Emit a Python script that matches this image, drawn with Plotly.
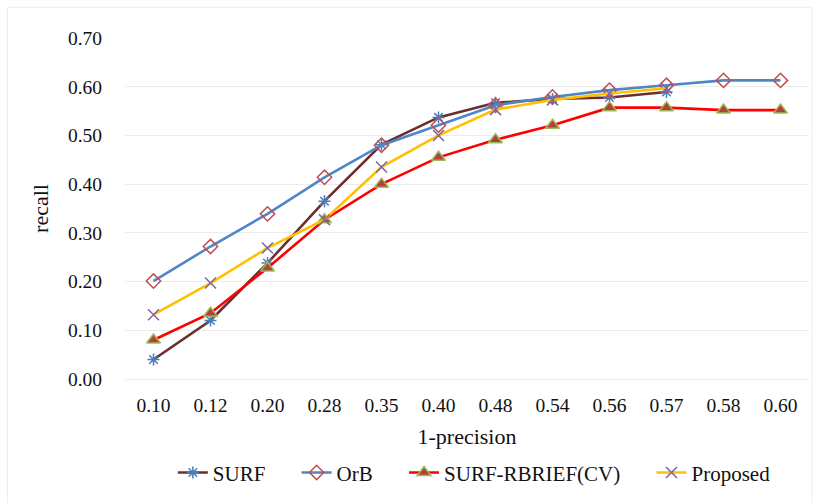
import plotly.graph_objects as go

categories = ["0.10", "0.12", "0.20", "0.28", "0.35", "0.40", "0.48", "0.54", "0.56", "0.57", "0.58", "0.60"]
surf = [0.04, 0.12, 0.238, 0.365, 0.481, 0.537, 0.567, 0.575, 0.578, 0.589]
orb = [0.201, 0.272, 0.339, 0.414, 0.480, 0.521, 0.562, 0.579, 0.593, 0.603, 0.613, 0.613]
rbrief = [0.080, 0.135, 0.228, 0.327, 0.400, 0.455, 0.491, 0.521, 0.557, 0.557, 0.552, 0.552]
proposed = [0.132, 0.197, 0.269, 0.327, 0.435, 0.500, 0.553, 0.573, 0.586, 0.597]
series_names = ["SURF", "OrB", "SURF-RBRIEF(CV)", "Proposed"]

FONT = "Liberation Serif, Times New Roman, serif"
PAD = "\u00a0" * 5  # spacing between legend entries


def legend_name(i):
    return series_names[i] + (PAD if i < len(series_names) - 1 else "")


fig = go.Figure()
fig.add_trace(go.Scatter(
    x=categories[:len(surf)], y=surf, name=legend_name(0), mode="lines+markers",
    line=dict(color="#6e2d2d", width=2.6),
    marker=dict(symbol="asterisk-open", size=10, color="#4a7ebb", line=dict(color="#4a7ebb", width=1.5)),
))
fig.add_trace(go.Scatter(
    x=categories[:len(orb)], y=orb, name=legend_name(1), mode="lines+markers",
    line=dict(color="#4f86c6", width=2.6),
    marker=dict(symbol="diamond-open", size=11, color="#c0504d", line=dict(color="#c0504d", width=1.5)),
))
fig.add_trace(go.Scatter(
    x=categories[:len(rbrief)], y=rbrief, name=legend_name(2), mode="lines+markers",
    line=dict(color="#ff0000", width=2.6),
    marker=dict(symbol="triangle-up", size=12, color="#b3413a", line=dict(color="#9bbb59", width=1.5)),
))
fig.add_trace(go.Scatter(
    x=categories[:len(proposed)], y=proposed, name=legend_name(3), mode="lines+markers",
    line=dict(color="#ffc000", width=2.6),
    marker=dict(symbol="x-thin-open", size=11, color="#8064a2", line=dict(color="#8064a2", width=1.5)),
))

fig.update_layout(
    width=815, height=503,
    margin=dict(l=125, r=6, t=38, b=124),
    paper_bgcolor="white", plot_bgcolor="white",
    font=dict(family=FONT, size=19.5, color="#111111"),
    showlegend=True,
    legend=dict(orientation="h", xref="container", yref="container", x=0.582, y=0.06,
                xanchor="center", yanchor="middle", font=dict(family=FONT, size=21),
                itemwidth=30, tracegroupgap=0),
    shapes=[dict(type="rect", xref="paper", yref="paper", x0=-0.172, x1=1.0045, y0=-0.6, y1=1.09,
                 line=dict(color="#ececec", width=1), layer="below")],
)
fig.update_xaxes(
    type="category", categoryorder="array", categoryarray=categories,
    range=[-0.5, len(categories) - 0.5],
    showgrid=False, showline=False, zeroline=False, ticks="", ticklabelstandoff=12,
    title=dict(text="1-precision", font=dict(family=FONT, size=22), standoff=14),
    tickfont=dict(family=FONT, size=19.5),
)
fig.update_yaxes(
    range=[0, 0.7], dtick=0.1, tickformat=".2f",
    showgrid=True, gridcolor="#ececec", gridwidth=1,
    zeroline=True, zerolinecolor="#ececec", zerolinewidth=1,
    showline=False, ticks="", ticklabelstandoff=22,
    title=dict(text="recall", font=dict(family=FONT, size=22), standoff=13),
    tickfont=dict(family=FONT, size=19.5),
)

fig.write_html("out.html")
